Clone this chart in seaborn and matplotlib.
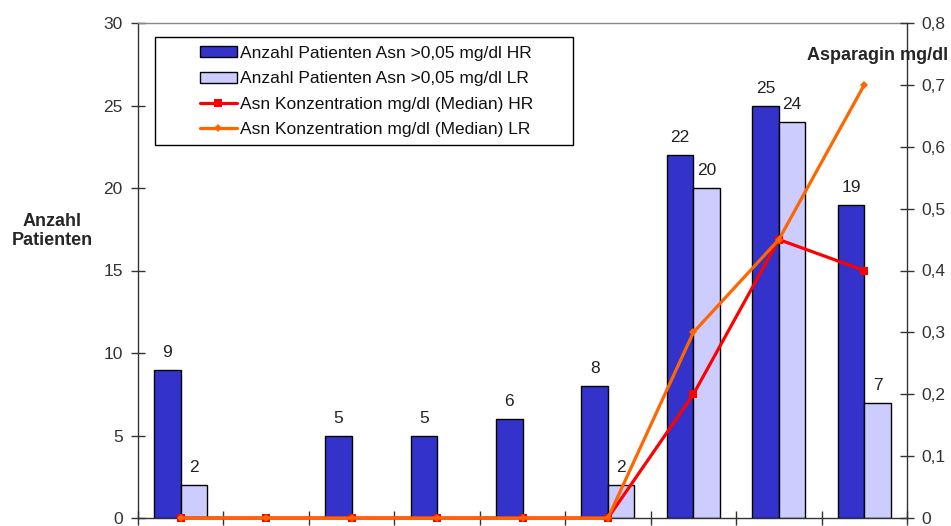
import matplotlib
matplotlib.use("Agg")
import matplotlib.pyplot as plt
from matplotlib.patches import Patch, Rectangle
from matplotlib.lines import Line2D
import numpy as np
import pandas as pd
import seaborn as sns

# Groups along the x axis (labels lie below the visible area)
groups = ["1", "2", "3", "4", "5", "6", "7", "8", "9"]

# Number of patients with Asn > 0,05 mg/dl
patients_hr = [9, 0, 5, 5, 6, 8, 22, 25, 19]
patients_lr = [2, 0, 0, 0, 0, 2, 20, 24, 7]

# Median asparagine concentration (mg/dl)
asn_median_hr = [0, 0, 0, 0, 0, 0, 0.2, 0.45, 0.4]
asn_median_lr = [0, 0, 0, 0, 0, 0, 0.3, 0.45, 0.7]

left_ticks = [0, 5, 10, 15, 20, 25, 30]
right_ticks = [0, 0.1, 0.2, 0.3, 0.4, 0.5, 0.6, 0.7, 0.8]

lbl_hr_bar = "Anzahl Patienten Asn >0,05 mg/dl HR"
lbl_lr_bar = "Anzahl Patienten Asn >0,05 mg/dl LR"
lbl_hr_line = "Asn Konzentration mg/dl (Median) HR"
lbl_lr_line = "Asn Konzentration mg/dl (Median) LR"

C_HR_BAR = "#3333CC"
C_LR_BAR = "#CCCCFF"
C_HR_LINE = "#FF0000"
C_LR_LINE = "#FF6600"
AX_COL = "#333333"

sns.set_style("white")
plt.rcParams["font.family"] = ["Liberation Sans", "DejaVu Sans"]

W, H = 951, 526
fig = plt.figure(figsize=(W / 100, H / 100), dpi=100)
ax = fig.add_axes([138 / W, 1 - 518 / H, (907 - 138) / W, (518 - 23) / H])

bars = pd.DataFrame({
    "group": groups * 2,
    "count": patients_hr + patients_lr,
    "risk": ["HR"] * len(groups) + ["LR"] * len(groups),
})
sns.barplot(data=bars, x="group", y="count", hue="risk", order=groups,
            hue_order=["HR", "LR"], palette=[C_HR_BAR, C_LR_BAR],
            width=0.62, edgecolor="black", linewidth=1, saturation=1,
            legend=False, ax=ax)

for cont, vals in zip(ax.containers, [patients_hr, patients_lr]):
    ax.bar_label(cont, labels=[str(v) if v else "" for v in vals],
                 padding=7, fontsize=12.5, color="#222222")

ax.set_xlim(-0.5, len(groups) - 0.5)
ax.set_ylim(0, 30)
ax.set_yticks(left_ticks)
ax.set_xticks(np.arange(-0.5, len(groups), 1.0))
ax.set_xticklabels([])
ax.set_xlabel("")
ax.set_ylabel("")
ax.tick_params(axis="y", direction="inout", length=10, width=1, colors=AX_COL,
               labelsize=12.5, pad=6, left=True)
ax.tick_params(axis="x", direction="inout", length=10, width=1, colors=AX_COL,
               bottom=True)
for s in ["left", "bottom"]:
    ax.spines[s].set_color(AX_COL)
    ax.spines[s].set_linewidth(1)
ax.spines["top"].set_color("#888888")
ax.spines["top"].set_linewidth(1)
ax.spines["right"].set_visible(False)

ax2 = ax.twinx()
xpos = np.arange(len(groups))
sns.lineplot(x=xpos, y=asn_median_hr, ax=ax2, color=C_HR_LINE, lw=2.3,
             marker="s", markersize=6, markeredgewidth=0, clip_on=False)
sns.lineplot(x=xpos, y=asn_median_lr, ax=ax2, color=C_LR_LINE, lw=2.3,
             marker="D", markersize=4.5, markeredgewidth=0, clip_on=False)
ax2.set_ylim(0, 0.8)
ax2.set_yticks(right_ticks)
ax2.set_yticklabels([f"{t:.1f}".replace(".", ",") if t else "0" for t in right_ticks])
ax2.tick_params(axis="y", direction="inout", length=10, width=1, colors=AX_COL,
                labelsize=12.5, pad=5, right=True)
for s in ["left", "top", "bottom"]:
    ax2.spines[s].set_visible(False)
ax2.spines["right"].set_color(AX_COL)
ax2.spines["right"].set_linewidth(1)

# Legend box and entries
fig.add_artist(Rectangle((155 / W, 1 - 145 / H), (573 - 155) / W, (145 - 37) / H,
                         transform=fig.transFigure, facecolor="white",
                         edgecolor="black", linewidth=1, zorder=5))
handles = [
    Patch(facecolor=C_HR_BAR, edgecolor="black", linewidth=1),
    Patch(facecolor=C_LR_BAR, edgecolor="black", linewidth=1),
    Line2D([], [], color=C_HR_LINE, lw=2.3, marker="s", markersize=6, markeredgewidth=0),
    Line2D([], [], color=C_LR_LINE, lw=2.3, marker="D", markersize=4.5, markeredgewidth=0),
]
leg = fig.legend(handles, [lbl_hr_bar, lbl_lr_bar, lbl_hr_line, lbl_lr_line],
                 loc="upper left", bbox_to_anchor=(200 / W, 1 - 46 / H),
                 frameon=False, fontsize=12.5, borderpad=0, borderaxespad=0,
                 handlelength=2.13, handleheight=0.6, handletextpad=0.17,
                 labelspacing=0.6)
leg.set_zorder(6)
for t in leg.get_texts():
    t.set_color("#111111")

fig.text(52 / W, 1 - 231 / H, "Anzahl\nPatienten", ha="center", va="center",
         fontsize=13, fontweight="bold", linespacing=1.2)
fig.text(948 / W, 1 - 55 / H, "Asparagin mg/dl", ha="right", va="center",
         fontsize=13, fontweight="bold")

fig.savefig("out.png", dpi=100)
